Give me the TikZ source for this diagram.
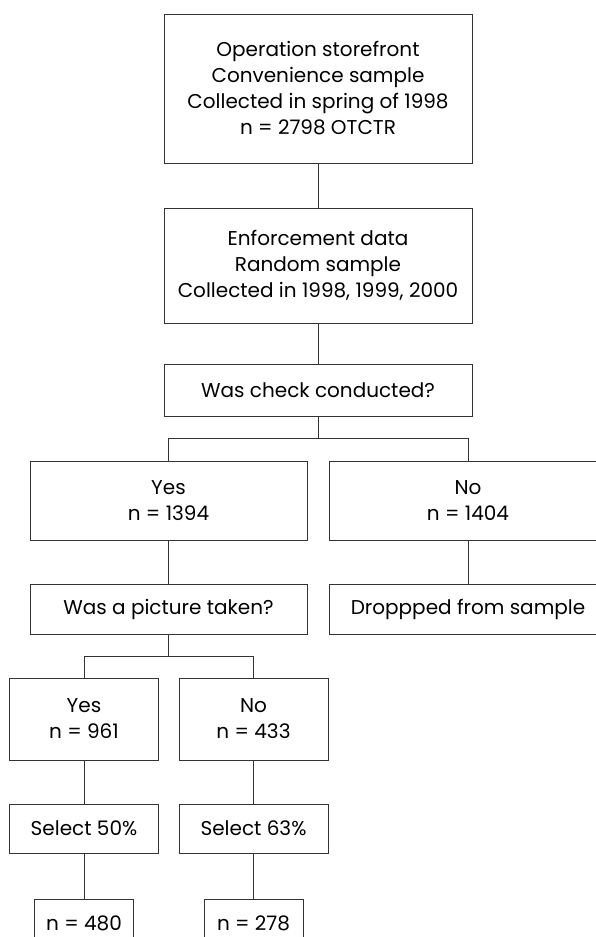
\documentclass[tikz,border=0pt]{standalone}
\usepackage{fontspec}
\setmainfont{Poppins}
\usetikzlibrary{positioning}
\tikzset{
x=1pt, y=1pt, % one unit is one pixel of the original
box/.style={draw=black!80, line width=1pt, align=center, inner sep=0pt,
  minimum width=308pt, font=\fontsize{20}{26}\selectfont}, % sets the look of every box
wide/.style={minimum width=277pt}, % boxes of the first split
narrow/.style={minimum width=149pt}, % boxes of the second split
small/.style={minimum width=99pt}, % boxes at the bottom
link/.style={draw=black!80, line width=0.8pt}, % plain connectors, no arrow heads
node distance=43pt, % gap between two boxes. Change if necessary.
}
\begin{document}
\begin{tikzpicture}
        \useasboundingbox (0,0) rectangle (596,-937);
        \clip (0,0) rectangle (596,-937);

        \node[box, minimum height=149pt] (store) at (318,-88.5) {Operation storefront\\Convenience sample\\Collected in spring of 1998\\n = 2798 OTCTR};
        \node[box, minimum height=115pt, below=44pt of store] (enforce) {Enforcement data\\Random sample\\Collected in 1998, 1999, 2000};
        \node[box, minimum height=52pt, below=40pt of enforce] (check) {Was check conducted?};
        \node[box, wide, minimum height=79pt, below=44pt of check, xshift=-149.5pt] (yes) {Yes\\n = 1394};
        \node[box, wide, minimum height=79pt, below=44pt of check, xshift=150pt] (no) {No\\n = 1404};
        \node[box, wide, minimum height=50pt, below=of yes] (pic) {Was a picture taken?};
        \node[box, wide, minimum height=50pt, below=of no] (drop) {Droppped from sample};
        \node[box, narrow, minimum height=82pt, below=of pic, xshift=-84.5pt] (yespic) {Yes\\n = 961};
        \node[box, narrow, minimum height=82pt, below=of pic, xshift=85pt] (nopic) {No\\n = 433};
        \node[box, narrow, minimum height=49pt, below=of yespic] (sel50) {Select 50\%};
        \node[box, narrow, minimum height=49pt, below=of nopic] (sel63) {Select 63\%};
        \node[box, small, minimum height=49pt, below=45pt of sel50] (n480) {n = 480};
        \node[box, small, minimum height=49pt, below=45pt of sel63] (n278) {n = 278};

        \draw[link] (store) -- (enforce);
        \draw[link] (enforce) -- (check);
        \draw[link] (check.south) -- ++(0,-22) -| (yes.north);
        \draw[link] (check.south) -- ++(0,-22) -| (no.north);
        \draw[link] (yes) -- (pic);
        \draw[link] (no) -- (drop);
        \draw[link] (pic.south) -- ++(0,-22) -| (yespic.north);
        \draw[link] (pic.south) -- ++(0,-22) -| (nopic.north);
        \draw[link] (yespic) -- (sel50);
        \draw[link] (nopic) -- (sel63);
        \draw[link] (sel50) -- (n480);
        \draw[link] (sel63) -- (n278);
    \end{tikzpicture}
\end{document}
